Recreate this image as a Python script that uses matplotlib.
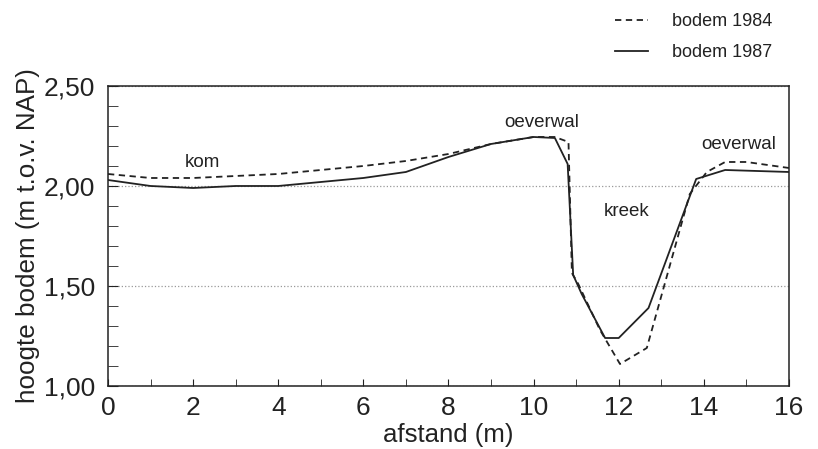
import matplotlib
matplotlib.use("Agg")
from matplotlib import pyplot as plt
from matplotlib.ticker import MultipleLocator, FuncFormatter

plt.rcParams['font.family'] = ['Liberation Sans', 'DejaVu Sans']

# bodem 1984 (dashed)
x84 = [0, 1, 2, 3, 4, 5, 6, 7, 8, 9, 10, 10.5, 10.82, 10.9, 11.05, 11.56, 12.03, 12.66, 13.67, 14.07, 14.5, 15.0, 16]
y84 = [2.06, 2.04, 2.04, 2.05, 2.06, 2.08, 2.10, 2.125, 2.16, 2.21, 2.245, 2.245, 2.22, 1.565, 1.51, 1.28, 1.11, 1.19, 1.96, 2.07, 2.12, 2.12, 2.09]
# bodem 1987 (solid)
x87 = [0, 1, 2, 3, 4, 5, 6, 7, 8, 9, 10, 10.5, 10.8, 10.93, 11.13, 11.68, 12.0, 12.7, 13.82, 14.5, 16]
y87 = [2.03, 2.0, 1.99, 2.0, 2.0, 2.02, 2.04, 2.07, 2.145, 2.21, 2.245, 2.24, 2.11, 1.555, 1.46, 1.24, 1.24, 1.39, 2.035, 2.08, 2.07]

labels = ["kom", "oeverwal", "kreek", "oeverwal"]
label_x = [2.23, 10.19, 12.19, 14.81]
label_y = [2.115, 2.317, 1.87, 2.205]

ink = "#222222"
fig = plt.figure(figsize=(8.18, 4.49), dpi=100)
ax = fig.add_axes([0.132, 0.1403, 0.8325, 0.6682])

ax.plot(x84, y84, color=ink, lw=1.3, ls=(0, (3.5, 2.5)), label="bodem 1984")
ax.plot(x87, y87, color=ink, lw=1.3, ls="-", label="bodem 1987")

for t, xx, yy in zip(labels, label_x, label_y):
    ax.text(xx, yy, t, ha="center", va="center", fontsize=13.5, color=ink)

ax.set_xlim(0, 16)
ax.set_ylim(1.0, 2.5)
ax.xaxis.set_major_locator(MultipleLocator(2))
ax.xaxis.set_minor_locator(MultipleLocator(1))
ax.yaxis.set_major_locator(MultipleLocator(0.5))
ax.yaxis.set_minor_locator(MultipleLocator(0.1))
ax.yaxis.set_major_formatter(FuncFormatter(lambda v, p: f"{v:.2f}".replace(".", ",")))

ax.tick_params(axis="both", which="both", direction="in", top=False, right=False, colors=ink, labelsize=19)
ax.tick_params(axis="x", which="both", length=5, pad=7)
ax.tick_params(axis="y", which="both", length=7.5, pad=9)
ax.grid(axis="y", which="major", ls=":", color="#999999", lw=0.9)
for s in ax.spines.values():
    s.set_color(ink)
    s.set_linewidth(1.1)

ax.set_xlabel("afstand (m)", fontsize=18.5, color=ink, labelpad=2)
ax.set_ylabel("hoogte bodem (m t.o.v. NAP)", fontsize=18.7, color=ink, labelpad=3)

fig.legend(loc="upper left", bbox_to_anchor=(615 / 818, 1 - 13 / 449), frameon=False,
           fontsize=13, handlelength=1.85, handletextpad=1.3, labelspacing=0.8,
           borderpad=0, borderaxespad=0, labelcolor=ink)

fig.savefig("out.png", dpi=100)
